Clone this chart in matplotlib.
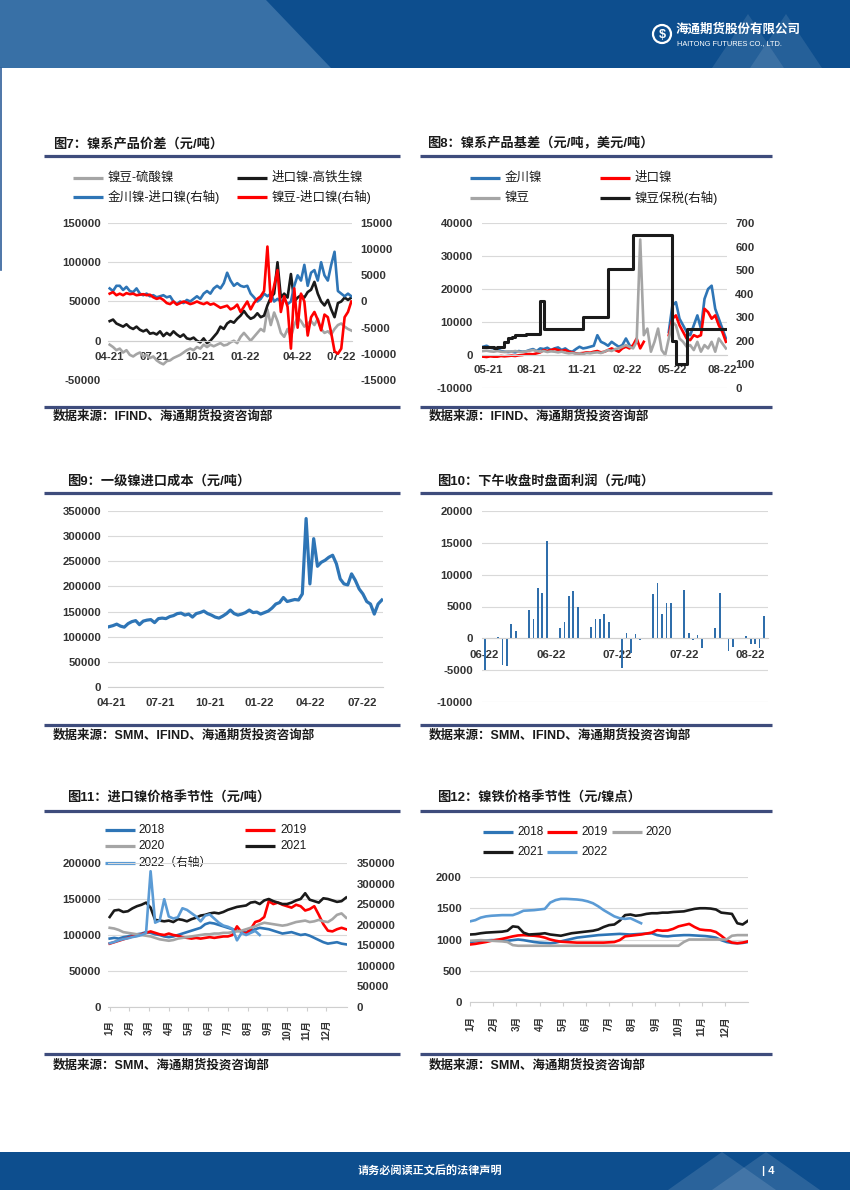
import numpy as np
import pandas as pd
import matplotlib
matplotlib.use('Agg')
import matplotlib.pyplot as plt
from matplotlib.patches import Polygon, Rectangle, Circle

plt.rcParams['font.family'] = ['Liberation Sans', 'Noto Sans CJK SC']
plt.rcParams['axes.unicode_minus'] = False

# ---------------- DATA ----------------
# Fig 7 (weekly, Apr-2021 .. Aug-2022)
c7_labels = ['04-21', '07-21', '10-21', '01-22', '04-22', '07-22']
c7_douzi_liusuan = [-5000, -8000, -12000, -10000, -15000, -12000, -18000, -20000, -17000, -15000,
                    -20000, -18000, -22000, -20000, -25000, -28000, -30000, -26000, -25000, -22000,
                    -20000, -18000, -15000, -12000, -10000, -12000, -8000, -10000, -5000, -8000,
                    -5000, -7000, -5000, -3000, -6000, -5000, -2000, 0, -3000, 5000,
                    10000, 5000, 0, 5000, 10000, 15000, 12000, 40000, 20000, 36000,
                    25000, 10000, 5000, 15000, 5000, 20000, 30000, 25000, 18000, 22000,
                    25000, 20000, 28000, 15000, 10000, 12000, 8000, 15000, 20000, 22000,
                    18000, 15000, 13000]
c7_jinkou_gaotie = [25000, 27000, 22000, 20000, 18000, 21000, 17000, 15000, 18000, 14000,
                    12000, 14000, 9000, 10000, 8000, 12000, 6000, 10000, 7000, 12000,
                    8000, 5000, 8000, 3000, 2000, 4000, 0, -2000, 3000, -3000,
                    0, 5000, 10000, 18000, 15000, 22000, 25000, 23000, 28000, 32000,
                    38000, 32000, 28000, 30000, 35000, 30000, 32000, 45000, 55000, 60000,
                    100000, 55000, 60000, 55000, 85000, 50000, 55000, 58000, 55000, 62000,
                    65000, 75000, 60000, 50000, 45000, 52000, 40000, 30000, 48000, 50000,
                    55000, 52000, 55000]
c7_jinchuan_jinkou = [2500, 2000, 3000, 3000, 2200, 2800, 2000, 1800, 2500, 1500,
                      1200, 1500, 1000, 1200, 800, 1000, 1200, 800, 1000, 0,
                      -500, 0, -300, 300, 0, 500, 1000, 500, 1500, 2000,
                      1500, 2500, 3000, 2500, 3500, 5500, 4000, 3000, 3500, 3000,
                      2800, 3000, 1500, 800, 0, 500, 1500, 1000, 1500, 0,
                      500, 0, 500, -500, 0, 3000, 5000, 4000, 7000, 3000,
                      5500, 6000, 4000, 7500, 5000, 4000, 7000, 9500, 2000, 1500,
                      1000, 1500, 1000]
c7_douzi_jinkou = [1500, 1800, 1200, 1500, 1200, 1600, 1400, 1500, 1200, 1300,
                   1400, 1200, 1300, 800, 500, 700, 300, -300, -500, 0,
                   -600, -300, 0, -200, -500, -300, 0, -300, -500, -200,
                   -600, -400, -800, -1200, -1000, -800, -1500, -1200, -600, -2000,
                   -1000, 0, -1500, -300, 500, 1000, 2000, 10500, 0, 3000,
                   6000, -2000, 1000, -1000, -9000, 2500, -5000, 1500, 0, -6500,
                   -3000, -2000, -3500, -5500, -2500, -3000, -6000, -9500, -10000, -9000,
                   -3000, -2000, 0]

# Fig 8 (weekly, May-2021 .. Aug-2022)
c8_labels = ['05-21', '08-21', '11-21', '02-22', '05-22', '08-22']
c8_jinchuan = [2500, 2800, 2200, 2000, 1800, 1200, 1000, 900, 1000, 800,
               1200, 1000, 1100, 1500, 1800, 1200, 2000, 1800, 2200, 1500,
               2000, 2300, 1500, 2000, 1200, 1000, 1800, 2500, 2000, 2200,
               2500, 2800, 6000, 4000, 3500, 2800, 4000, 3200, 2500, 3000,
               5000, 3000, np.nan, np.nan, np.nan, np.nan, np.nan, np.nan, np.nan, np.nan,
               np.nan, np.nan, 7000, 15000, 16000, 11000, 9000, 7000, 6000, 9000,
               12000, 8000, 17000, 20000, 21000, 14000, 11000, 8000, 5000]
c8_jinkou = [-500, -600, -400, -500, -500, -300, -400, -300, -200, -300,
             -100, 0, 200, 300, 200, 500, 800, 1500, 1200, 1500,
             1800, 1500, 1200, 1500, 1000, 800, 500, 500, 600, 800,
             700, 1000, 1200, 800, 1000, 1500, 2000, 1500, 1000, 2000,
             2500, 2000, 3000, 5000, 2000, 4000, np.nan, np.nan, np.nan, np.nan,
             np.nan, np.nan, 6000, 11000, 12000, 9000, 7000, 5000, 4500, 6000,
             5500, 6000, 14000, 13000, 11000, 12000, 9000, 7000, 4000]
c8_douzi = [1200, 1300, 1100, 1000, 1200, 1000, 900, 1100, 1000, 1200,
            1000, 900, 1100, 1300, 1500, 1200, 1000, 1200, 900, 1100,
            1000, 800, 1000, 700, 500, 600, 400, 500, 300, 600,
            500, 700, 800, 600, 1000, 1500, 1200, 1800, 2000, 2500,
            3000, 2500, 2000, 4000, 35000, 6000, 8000, 1000, 4000, 8000,
            1500, 0, 5000, 10000, 9000, 5000, 4000, 2500, 3000, 1500,
            4000, 1000, 3000, 2000, 4000, 1000, 5000, 3500, 2000]
c8_douzi_baoshui = [175, 175, 175, 170, 175, 175, 195, 210, 215, 225,
                    225, 225, 230, 230, 230, 230, 367, 250, 250, 250,
                    250, 250, 250, 250, 250, 250, 250, 250, 300, 300,
                    300, 300, 300, 300, 300, 505, 505, 505, 505, 505,
                    505, 505, 650, 650, 650, 650, 650, 650, 650, 650,
                    650, 650, 650, 200, 100, 100, 100, 250, 250, 250,
                    250, 250, 250, 250, 250, 250, 250, 250, 250]

# Fig 9 (weekly, Apr-2021 .. Aug-2022)
c9_labels = ['04-21', '07-21', '10-21', '01-22', '04-22', '07-22']
c9_cost = [120000, 122000, 125000, 121000, 119000, 126000, 130000, 132000, 124000, 131000,
           133000, 134000, 128000, 136000, 137000, 136000, 140000, 142000, 146000, 147000,
           143000, 145000, 139000, 146000, 148000, 151000, 146000, 143000, 139000, 137000,
           141000, 146000, 153000, 146000, 143000, 145000, 148000, 153000, 148000, 149000,
           145000, 148000, 151000, 157000, 165000, 168000, 178000, 170000, 172000, 174000,
           173000, 185000, 335000, 205000, 295000, 240000, 248000, 252000, 258000, 262000,
           245000, 215000, 205000, 203000, 225000, 212000, 195000, 185000, 170000, 165000,
           145000, 165000, 173000]

# Fig 10 (daily from 2022-06-03, NaN = no trading)
c10_start = '2022-06-03'
c10_profit = [-4900, np.nan, np.nan, 200, -4200, -4400, 2300, 1150, np.nan, np.nan,
              4500, 3000, 7900, 7100, 15300, np.nan, np.nan, 1700, 2600, 6600,
              7500, 4900, np.nan, np.nan, 1800, 3000, 3000, 3800, 2600, np.nan,
              np.nan, -4700, 900, -2300, 700, -300, np.nan, np.nan, 7000, 8700,
              3800, 5500, 5500, np.nan, np.nan, 7600, 900, -200, 600, -1500,
              np.nan, np.nan, 1700, 7100, -100, -2000, -1300, np.nan, np.nan, 300,
              -900, -900, -1500, 3500]

# Fig 11 seasonal (weekly)
months = ['1月', '2月', '3月', '4月', '5月', '6月', '7月', '8月', '9月', '10月', '11月', '12月']
c11_2018 = [95000, 96000, 95000, 97000, 98000, 100000, 101000, 102000, 104000, 103000,
            101000, 100000, 98000, 97000, 98000, 100000, 102000, 104000, 106000, 108000,
            110000, 115000, 117000, 116000, 114000, 112000, 110000, 108000, 106000, 105000,
            104000, 106000, 108000, 110000, 109000, 108000, 106000, 104000, 102000, 103000,
            104000, 102000, 100000, 101000, 99000, 96000, 93000, 90000, 88000, 89000,
            90000, 88000, 87000]
c11_2019 = [88000, 90000, 92000, 94000, 96000, 98000, 99000, 101000, 103000, 105000,
            103000, 101000, 100000, 102000, 100000, 99000, 97000, 96000, 95000, 96000,
            95000, 96000, 97000, 96000, 97000, 98000, 98000, 100000, 112000, 104000,
            102000, 108000, 118000, 120000, 125000, 147000, 143000, 145000, 142000, 140000,
            138000, 142000, 140000, 134000, 136000, 140000, 128000, 115000, 106000, 105000,
            108000, 110000, 108000]
c11_2020 = [110000, 109000, 107000, 104000, 103000, 102000, 101000, 100000, 99000, 98000,
            96000, 94000, 93000, 92000, 93000, 95000, 96000, 97000, 98000, 99000,
            100000, 101000, 101000, 102000, 102000, 103000, 103000, 104000, 105000, 106000,
            108000, 110000, 112000, 115000, 117000, 116000, 115000, 114000, 113000, 114000,
            116000, 118000, 119000, 120000, 118000, 119000, 121000, 119000, 118000, 122000,
            128000, 130000, 124000]
c11_2021 = [125000, 134000, 135000, 132000, 133000, 137000, 140000, 142000, 145000, 138000,
            121000, 120000, 119000, 120000, 118000, 122000, 121000, 119000, 122000, 124000,
            127000, 128000, 130000, 131000, 130000, 132000, 135000, 137000, 139000, 140000,
            141000, 145000, 146000, 143000, 148000, 150000, 147000, 145000, 143000, 143000,
            145000, 148000, 150000, 158000, 149000, 147000, 145000, 151000, 150000, 148000,
            146000, 147000, 152000]
c11_2022 = [155000, 158000, 162000, 165000, 167000, 170000, 172000, 175000, 180000, 330000,
            205000, 210000, 262000, 220000, 215000, 218000, 240000, 236000, 228000, 220000,
            208000, 222000, 225000, 215000, 205000, 198000, 195000, 190000, 162000, 180000,
            175000, 180000, 185000, 175000]

# Fig 12 seasonal (weekly)
c12_2018 = [960, 970, 980, 985, 990, 990, 985, 980, 990, 1000,
            990, 975, 960, 950, 945, 940, 950, 970, 990, 1010,
            1030, 1040, 1050, 1060, 1070, 1075, 1080, 1085, 1090, 1085,
            1080, 1085, 1090, 1095, 1100, 1070, 1055, 1050, 1060, 1065,
            1070, 1070, 1065, 1060, 1055, 1045, 1030, 990, 960, 945,
            940, 945, 960]
c12_2019 = [920, 930, 945, 960, 980, 995, 1010, 1030, 1050, 1065,
            1070, 1065, 1060, 1050, 1030, 1000, 980, 965, 960, 955,
            950, 950, 950, 950, 950, 950, 955, 960, 990, 1050,
            1060, 1070, 1080, 1095, 1110, 1150, 1140, 1145, 1170, 1210,
            1230, 1250, 1200, 1160, 1150, 1145, 1120, 1060, 990, 950,
            940, 950, 970]
c12_2020 = [980, 985, 990, 985, 980, 975, 970, 960, 910, 900,
            900, 900, 900, 900, 900, 900, 900, 900, 900, 900,
            900, 900, 900, 900, 900, 900, 900, 900, 900, 900,
            900, 900, 900, 900, 900, 900, 900, 900, 900, 900,
            960, 1000, 1000, 1000, 1000, 1000, 1000, 1000, 1000, 1060,
            1070, 1070, 1070]
c12_2021 = [1080, 1085, 1100, 1110, 1115, 1120, 1125, 1140, 1210, 1200,
            1110, 1080, 1085, 1090, 1100, 1080, 1070, 1060, 1080, 1100,
            1110, 1120, 1130, 1140, 1160, 1200, 1230, 1240, 1300, 1390,
            1400, 1380, 1390, 1410, 1420, 1420, 1430, 1430, 1440, 1445,
            1450, 1470, 1490, 1500, 1500, 1495, 1480, 1430, 1420, 1410,
            1260, 1240, 1300]
c12_2022 = [1290, 1310, 1350, 1370, 1380, 1385, 1390, 1390, 1390, 1420,
            1460, 1465, 1470, 1480, 1490, 1590, 1630, 1650, 1650, 1645,
            1640, 1630, 1610, 1580, 1530, 1470, 1420, 1370, 1340, 1330,
            1340, 1300, 1260]

# ---------------- STYLE ----------------
BLUE = '#2e75b6'
RED = '#ff0000'
GRAY = '#a5a5a5'
BLACK = '#1a1a1a'
LBLUE = '#5b9bd5'
BAR = '#2f6eab'
GRID = '#d9d9d9'
TICKC = '#333333'
NAVY = '#3e4c7c'
HEAD = '#0d4e8e'
LW = 1.9

W, H = 850, 1202
fig = plt.figure(figsize=(8.5, 12.02), dpi=100)


def rect(x0, y0, x1, y1):
    return [x0 / W, 1 - y1 / H, (x1 - x0) / W, (y1 - y0) / H]


bg = fig.add_axes([0, 0, 1, 1], zorder=0)
bg.set_xlim(0, W)
bg.set_ylim(H, 0)
bg.axis('off')

# header
bg.add_patch(Rectangle((0, 0), W, 68, color=HEAD, lw=0))
bg.add_patch(Polygon([(0, 0), (266, 0), (331, 68), (0, 68)], closed=True, color='#3870a6', lw=0))
for tri in ([(712, 68), (748, 14), (784, 68)], [(750, 68), (786, 14), (822, 68)]):
    bg.add_patch(Polygon(tri, closed=True, color='white', alpha=0.10, lw=0))
bg.add_patch(Circle((662, 34), 9, fill=False, ec='white', lw=1.6))
bg.text(662, 34.5, '$', color='white', fontsize=9, ha='center', va='center', fontweight='bold')
bg.text(676, 30, '海通期货股份有限公司', color='white', fontsize=9, ha='left', va='center',
        fontweight='bold')
bg.text(677, 43.5, 'HAITONG FUTURES CO., LTD.', color='white', fontsize=5.3, ha='left',
        va='center')
bg.plot([1.2, 1.2], [68, 270], color='#2f5f9a', lw=1.2)

# footer
bg.add_patch(Rectangle((0, 1152), W, 38, color=HEAD, lw=0))
for tri in ([(668, 1190), (722, 1152), (776, 1190)], [(712, 1190), (766, 1152), (820, 1190)]):
    bg.add_patch(Polygon(tri, closed=True, color='white', alpha=0.12, lw=0))
bg.text(430, 1171, '请务必阅读正文后的法律声明', color='white', fontsize=8, ha='center',
        va='center', fontweight='bold')
bg.text(762, 1171, '| 4', color='white', fontsize=8, ha='left', va='center', fontweight='bold')


def frame(x0, x1, ytitle, yline, ybot, ysrc, tx, title, src):
    bg.text(tx, ytitle, title, fontsize=9.5, fontweight='bold', ha='left', va='center',
            color='#1a1a1a')
    bg.plot([x0, x1], [yline, yline], color=NAVY, lw=2.3, solid_capstyle='butt')
    bg.plot([x0, x1], [ybot, ybot], color=NAVY, lw=2.3, solid_capstyle='butt')
    bg.text(x0 + 9, ysrc, src, fontsize=9, fontweight='bold', ha='left', va='center',
            color='#1a1a1a')


src1 = '数据来源：IFIND、海通期货投资咨询部'
src2 = '数据来源：SMM、IFIND、海通期货投资咨询部'
src3 = '数据来源：SMM、海通期货投资咨询部'
frame(44, 400, 144, 156, 407, 416, 53, '图7：镍系产品价差（元/吨）', src1)
frame(420, 772, 144, 156, 407, 416, 427, '图8：镍系产品基差（元/吨，美元/吨）', src1)
frame(44, 400, 481, 493, 725, 735, 67, '图9：一级镍进口成本（元/吨）', src2)
frame(420, 772, 481, 493, 725, 735, 437, '图10：下午收盘时盘面利润（元/吨）', src2)
frame(44, 400, 798, 811, 1054, 1065, 67, '图11：进口镍价格季节性（元/吨）', src3)
frame(420, 772, 798, 811, 1054, 1065, 437, '图12：镍铁价格季节性（元/镍点）', src3)


def legkey(x0, y, color, label, off=35, fs=9):
    bg.plot([x0, x0 + 30], [y, y], color=color, lw=2.3, solid_capstyle='butt')
    bg.text(x0 + off, y, label, fontsize=fs, ha='left', va='center', color='#1a1a1a')


def style(ax, ylim, yticks, xlim, zero=True, xpad=8, ypad=5):
    ax.set_facecolor('none')
    ax.set_zorder(1)
    ax.set_xlim(*xlim)
    ax.set_ylim(*ylim)
    ax.set_yticks(yticks)
    ax.set_yticklabels([str(int(v)) for v in yticks], fontweight='bold')
    ax.grid(axis='y', color=GRID, lw=0.8)
    ax.set_axisbelow(True)
    for s in ('left', 'right', 'top'):
        ax.spines[s].set_visible(False)
    ax.spines['bottom'].set_color('#cfcfcf')
    ax.spines['bottom'].set_linewidth(0.8)
    if zero:
        ax.spines['bottom'].set_position(('data', 0))
    ax.tick_params(axis='y', length=0, labelsize=8.2, labelcolor=TICKC, pad=ypad)
    ax.tick_params(axis='x', length=0, labelsize=8.2, labelcolor=TICKC, pad=xpad)


def right_axis(ax, ylim, yticks, pad=6):
    r = ax.twinx()
    r.set_zorder(2)
    r.set_facecolor('none')
    r.set_ylim(*ylim)
    r.set_yticks(yticks)
    r.set_yticklabels([str(int(v)) for v in yticks], fontweight='bold')
    for s in r.spines.values():
        s.set_visible(False)
    r.tick_params(axis='y', length=0, labelsize=8.2, labelcolor=TICKC, pad=pad)
    return r


# ---------------- Fig 7 ----------------
ax7 = fig.add_axes(rect(108, 223, 352, 380))
style(ax7, (-50000, 150000), range(-50000, 150001, 50000), (-0.5, 72.2), xpad=8)
ax7.set_xticks([0, 13.4, 26.8, 40.4, 55.8, 69.0])
ax7.set_xticklabels(c7_labels, fontweight='bold')
ax7.plot(np.arange(len(c7_douzi_liusuan)), c7_douzi_liusuan, color=GRAY, lw=LW)
ax7.plot(np.arange(len(c7_jinkou_gaotie)), c7_jinkou_gaotie, color=BLACK, lw=LW)
ax7r = right_axis(ax7, (-15000, 15000), range(-15000, 15001, 5000), pad=6)
ax7r.plot(np.arange(len(c7_jinchuan_jinkou)), c7_jinchuan_jinkou, color=BLUE, lw=LW)
ax7r.plot(np.arange(len(c7_douzi_jinkou)), c7_douzi_jinkou, color=RED, lw=LW)
legkey(73, 178, GRAY, '镍豆-硫酸镍')
legkey(237, 178, BLACK, '进口镍-高铁生镍')
legkey(73, 197, BLUE, '金川镍-进口镍(右轴)')
legkey(237, 197, RED, '镍豆-进口镍(右轴)')

# ---------------- Fig 8 ----------------
ax8 = fig.add_axes(rect(482, 223, 727, 388))
style(ax8, (-10000, 40000), range(-10000, 40001, 10000), (-0.3, 68.3), xpad=7, ypad=6.5)
ax8.set_xticks([1.4, 13.5, 27.5, 40.5, 53.1, 67.0])
ax8.set_xticklabels(c8_labels, fontweight='bold')
ax8.plot(np.arange(len(c8_jinchuan)), c8_jinchuan, color=BLUE, lw=LW)
ax8.plot(np.arange(len(c8_jinkou)), c8_jinkou, color=RED, lw=LW)
ax8.plot(np.arange(len(c8_douzi)), c8_douzi, color=GRAY, lw=LW)
ax8r = right_axis(ax8, (0, 700), range(0, 701, 100), pad=6)
ax8r.plot(np.arange(len(c8_douzi_baoshui)), c8_douzi_baoshui, color=BLACK, lw=2.2,
          drawstyle='steps-post')
legkey(470, 178, BLUE, '金川镍')
legkey(600, 178, RED, '进口镍')
legkey(470, 198, GRAY, '镍豆')
legkey(600, 198, BLACK, '镍豆保税(右轴)')

# ---------------- Fig 9 ----------------
ax9 = fig.add_axes(rect(108, 511, 383, 687))
style(ax9, (0, 350000), range(0, 350001, 50000), (-0.3, 72.3), zero=False, xpad=8)
ax9.set_xticks([0.44, 13.5, 26.6, 39.7, 53.2, 66.8])
ax9.set_xticklabels(c9_labels, fontweight='bold')
ax9.plot(np.arange(len(c9_cost)), c9_cost, color=BLUE, lw=2.3)

# ---------------- Fig 10 ----------------
ax10 = fig.add_axes(rect(482, 511, 768, 702))
style(ax10, (-10000, 20000), range(-10000, 20001, 5000), (-0.6, 63.9), xpad=8.5, ypad=6.5)
d10 = pd.date_range(c10_start, periods=len(c10_profit), freq='D')
x10 = np.arange(len(c10_profit))
v10 = np.array(c10_profit, dtype=float)
ok = ~np.isnan(v10)
ax10.bar(x10[ok], v10[ok], width=0.4, color=BAR, lw=0)
ax10.set_xticks(x10[::15])
ax10.set_xticklabels([d.strftime('%m-%y') for d in d10[::15]], fontweight='bold')

# ---------------- Fig 11 ----------------
mpos = np.arange(12) * 52 / 12
ax11 = fig.add_axes(rect(108, 863, 347, 1007))
style(ax11, (0, 200000), range(0, 200001, 50000), (-0.37, 52.2), zero=False, xpad=6)
ax11.set_xticks(mpos)
ax11.set_xticklabels(months, rotation=90, fontsize=7, fontweight='bold')
ax11.tick_params(axis='x', length=3, color='#cfcfcf', direction='out')
for ser, col in ((c11_2018, BLUE), (c11_2019, RED), (c11_2020, GRAY), (c11_2021, BLACK)):
    ax11.plot(np.arange(len(ser)), ser, color=col, lw=LW)
ax11r = right_axis(ax11, (0, 350000), range(0, 350001, 50000), pad=7)
ax11r.plot(np.arange(len(c11_2022)), c11_2022, color=LBLUE, lw=LW)
legkey(105, 830, BLUE, '2018', off=33, fs=8.5)
legkey(245, 830, RED, '2019', off=35, fs=8.5)
legkey(105, 846, GRAY, '2020', off=33, fs=8.5)
legkey(245, 846, BLACK, '2021', off=35, fs=8.5)
legkey(105, 863, LBLUE, '2022（右轴）', off=33, fs=8.5)

# ---------------- Fig 12 ----------------
ax12 = fig.add_axes(rect(470, 877, 748, 1002))
style(ax12, (0, 2000), range(0, 2001, 500), (0, 52), zero=False, xpad=7, ypad=6)
ax12.set_xticks(mpos)
ax12.set_xticklabels(months, rotation=90, fontsize=7, fontweight='bold')
ax12.tick_params(axis='x', length=3, color='#cfcfcf', direction='out')
for ser, col in ((c12_2018, BLUE), (c12_2019, RED), (c12_2020, GRAY), (c12_2021, BLACK),
                 (c12_2022, LBLUE)):
    ax12.plot(np.arange(len(ser)), ser, color=col, lw=LW)
legkey(483, 832, BLUE, '2018', off=34, fs=8.5)
legkey(547, 832, RED, '2019', off=34, fs=8.5)
legkey(612, 832, GRAY, '2020', off=33, fs=8.5)
legkey(483, 852, BLACK, '2021', off=34, fs=8.5)
legkey(547, 852, LBLUE, '2022', off=34, fs=8.5)

fig.savefig('out.png', dpi=100)
